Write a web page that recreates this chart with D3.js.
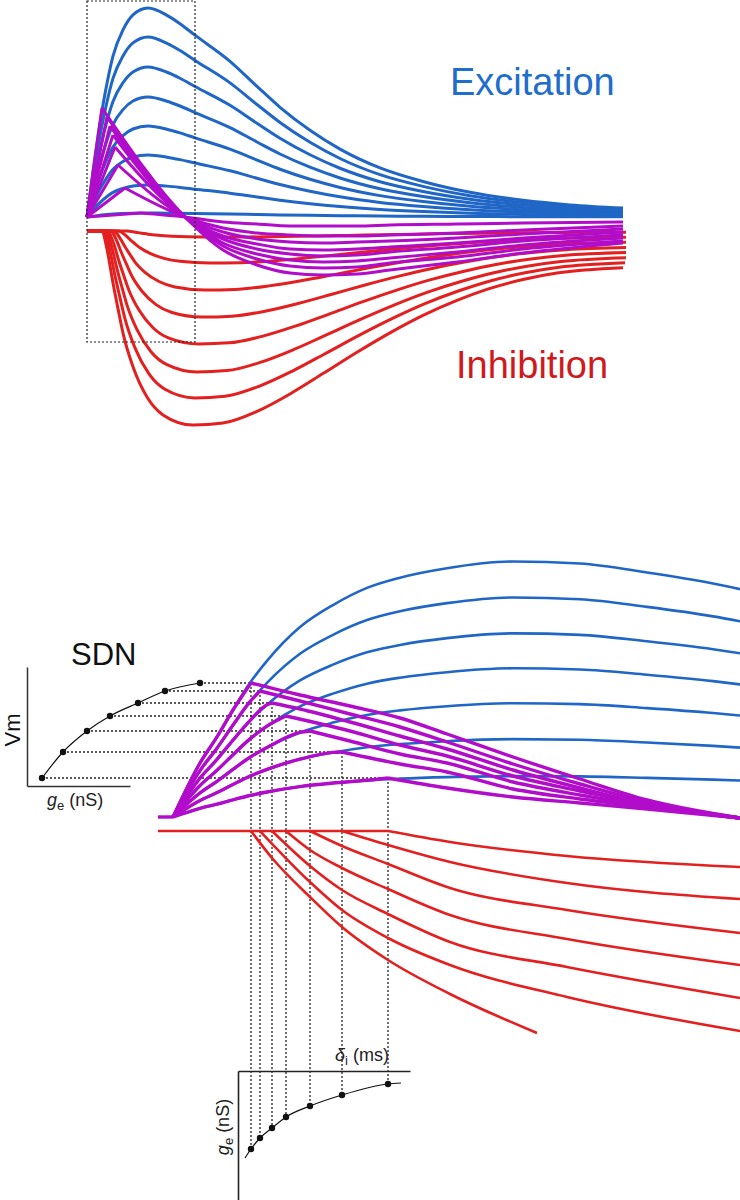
<!DOCTYPE html>
<html>
<head>
<meta charset="utf-8">
<script src="https://cdn.jsdelivr.net/npm/d3@7"></script>
<style>
  body { margin: 0; background: #fff; }
  svg { display: block; }
  text { font-family: "Liberation Sans", Arial, sans-serif; }
</style>
</head>
<body>
<svg id="chart" width="740" height="1200"></svg>
<script>
// ---------- top panel: full traces (time in ms, Vm in mV) ----------
const excTopT     = [0, 0.6, 1.3, 2.0, 2.6, 3.6, 4.6, 6.1, 8.0, 9.3, 10.8, 14.3, 17.0, 19.3, 22.3, 25.3, 29.3, 33.6, 38.3, 43.6, 48.3, 53.6];
const excTopShape = [0, 0.22, 0.45, 0.64, 0.77, 0.895, 0.967, 1.0, 0.965, 0.925, 0.87, 0.745, 0.625, 0.525, 0.415, 0.325, 0.235, 0.17, 0.118, 0.08, 0.058, 0.043];
const excTopPeak  = [20.9, 18.0, 15.0, 12.0, 9.1, 6.2, 3.2, 0.4];

const inhTopT     = [1.6, 2.1, 2.6, 3.1, 3.6, 4.6, 6.0, 7.6, 10.6, 13.6, 17.0, 20.3, 23.6, 27.0, 30.3, 33.6, 37.0, 40.3, 43.6, 47.0, 53.6];
const inhTopShape = [0, 0.12, 0.268, 0.40, 0.526, 0.70, 0.856, 0.948, 1.0, 0.99, 0.93, 0.84, 0.735, 0.625, 0.525, 0.435, 0.358, 0.296, 0.25, 0.217, 0.19];
const inhTopPeak  = [19.4, 16.7, 14.1, 11.3, 8.6, 5.9, 3.2, 0.6];
const inhTopDelay = [0, 0.2, 0.4, 0.6, 0.9, 1.2, 1.7, 2.5];

const mixTopPeakT = [1.5, 2.0, 2.3, 2.6, 2.8, 3.1, 3.8, 5.3];
const mixTopPeakV = [10.9, 10.0, 9.1, 8.2, 7.0, 5.2, 2.9, 0.4];
const mixTopTailT = [9.8, 13.6, 17.0, 20.3, 23.6, 27.0, 30.3, 37.0, 43.6, 53.6];
const mixTopTail = [
  [0, -3.3, -4.8, -5.6, -5.8, -5.7, -5.3, -4.5, -3.6, -2.6],
  [0, -2.9, -4.2, -4.9, -5.1, -5.0, -4.6, -4.0, -3.2, -2.4],
  [0, -2.6, -3.7, -4.3, -4.5, -4.4, -4.1, -3.5, -2.8, -2.1],
  [0, -2.2, -3.2, -3.7, -3.9, -3.8, -3.5, -3.0, -2.4, -1.8],
  [0, -1.9, -2.7, -3.2, -3.3, -3.2, -3.0, -2.6, -2.1, -1.5],
  [0, -1.5, -2.2, -2.5, -2.6, -2.5, -2.4, -2.1, -1.7, -1.2],
  [0, -1.1, -1.6, -1.8, -1.9, -1.9, -1.8, -1.6, -1.3, -0.9],
  [0, -0.5, -0.7, -0.9, -0.9, -0.9, -0.8, -0.7, -0.6, -0.5]
];
const zoomBoxT = [0, 10.8];
const zoomBoxV = [-12.5, 21.6];

// ---------- bottom panel: zoom on the onset ----------
const botStartT   = 0;
const excBotT     = [1.5, 4.2, 5.9, 7.5, 9.2, 10.9, 14.2, 17.5, 20.9, 24.2, 28.9, 35.5, 42.2, 48.9, 55.5, 58.2];
const excBotShape = [0, 0.211, 0.313, 0.418, 0.524, 0.61, 0.742, 0.828, 0.895, 0.935, 0.972, 0.998, 0.99, 0.955, 0.912, 0.89];
const excBotPeak  = [25.6, 22.0, 18.4, 14.9, 11.4, 7.8, 4.1];

const mixBotPeakT = [9.3, 10.2, 11.4, 12.8, 15.2, 18.4, 23.0];
const mixBotPeakV = [13.4, 12.6, 11.4, 10.1, 8.6, 6.5, 3.9];
const mixBotTailT = [14.2, 19.2, 24.2, 28.9, 35.5, 42.2, 48.9, 58.2];
const mixBotTail = [
  [12.2, 11.1, 9.9, 8.3, 6.0, 3.8, 1.7, -0.1],
  [11.6, 10.3, 9.0, 7.5, 5.3, 3.3, 1.5, -0.1],
  [10.8, 9.5, 8.1, 6.8, 4.7, 2.9, 1.3, -0.1],
  [null, 8.6, 7.2, 6.1, 4.1, 2.6, 1.2, -0.1],
  [null, 7.6, 6.3, 5.4, 3.5, 2.2, 1.1, -0.1],
  [null, null, 5.3, 4.5, 2.8, 1.8, 1.0, -0.1],
  [null, null, null, 2.9, 2.0, 1.4, 0.8, -0.1]
];

const inhBotBaseEnd = 23.0;
const inhBotCurves = [
  [[9.3, 0], [11.4, 2.7], [15.2, 6.6], [18.4, 9.6], [23.0, 12.9], [29.2, 16.3], [37.9, 20.2]],
  [[10.2, 0], [15.2, 5.1], [18.4, 7.9], [23.0, 10.7], [29.2, 13.4], [40.9, 16.6], [58.2, 20.0]],
  [[11.4, 0], [15.2, 3.5], [18.4, 5.9], [23.0, 8.3], [29.2, 11.1], [40.9, 13.6], [58.2, 16.7]],
  [[12.8, 0], [15.2, 1.9], [18.4, 3.7], [23.0, 5.8], [29.2, 8.4], [40.9, 10.8], [58.2, 13.4]],
  [[15.2, 0], [18.4, 1.5], [23.0, 3.3], [29.2, 5.7], [40.9, 7.9], [58.2, 10.2]],
  [[18.4, 0], [23.0, 1.4], [29.2, 3.1], [40.9, 5.2], [58.2, 6.8]],
  [[23.0, 0], [29.2, 1.1], [40.9, 2.5], [58.2, 3.6]]
];

// insets: peak Vm vs g_e, and g_e vs inhibitory delay
const sdnGe   = [17.3, 13.8, 11.1, 8.3, 6.0, 3.6, 1.5];
const deltaGe = [7.8, 6.7, 5.7, 4.6, 3.5, 2.4, 1.3];
const deltaFitT = [8.7, 9.3, 10.2, 11.4, 12.8, 15.2, 18.4, 23.0, 24.3];
const deltaFitG = [8.7, 7.8, 6.7, 5.7, 4.6, 3.5, 2.4, 1.3, 1.2];

// ---------- drawing ----------
const blue = "#1f66c6", red = "#e3201f", purple = "#b20ccb";
const svg = d3.select("#chart");

const xTop = d3.scaleLinear().domain([0, 54]).range([87, 627]);
const yTopExc = d3.scaleLinear().domain([0, 20]).range([217, 17]);
const yTopInh = d3.scaleLinear().domain([0, 20]).range([231, 431]);
const xBot = d3.scaleLinear().domain([0, 58.2]).range([158, 740]);
const yBotExc = d3.scaleLinear().domain([0, 20]).range([817, 617]);
const yBotInh = d3.scaleLinear().domain([0, 20]).range([831, 1031]);
const xSdn = d3.scaleLinear().domain([0, 10]).range([27, 127]);
const yDelta = d3.scaleLinear().domain([0, 10]).range([1071, 1171]);

svg.append("clipPath").attr("id", "topClip")
  .append("rect").attr("x", 0).attr("y", 0).attr("width", xTop(54) - 1).attr("height", 460);

const topG = svg.append("g").attr("clip-path", "url(#topClip)");

const lineTopExc = d3.line().x(d => xTop(d[0])).y(d => yTopExc(d[1])).curve(d3.curveMonotoneX);
const lineTopInh = d3.line().x(d => xTop(d[0])).y(d => yTopInh(d[1])).curve(d3.curveMonotoneX);
const lineTopExcLin = d3.line().x(d => xTop(d[0])).y(d => yTopExc(d[1]));
const lineTopInhLin = d3.line().x(d => xTop(d[0])).y(d => yTopInh(d[1]));

topG.selectAll("path.excTop")
  .data(excTopPeak)
  .enter()
  .append("path")
  .attr("class", "excTop")
  .attr("d", a => lineTopExc(excTopT.map((t, j) => [t, excTopShape[j] * a])))
  .attr("fill", "none").attr("stroke", blue).attr("stroke-width", 3);

// inhibition: flat until its (delayed) onset, then the trace
inhTopPeak.forEach((a, i) => {
  const onset = inhTopT[0] + inhTopDelay[i];
  topG.append("path")
    .attr("d", lineTopInhLin([[0, 0], [onset, 0]]))
    .attr("fill", "none").attr("stroke", red).attr("stroke-width", 3);
  topG.append("path")
    .attr("d", lineTopInh(inhTopT.map((t, j) => [t + inhTopDelay[i], inhTopShape[j] * a])))
    .attr("fill", "none").attr("stroke", red).attr("stroke-width", 3);
});

mixTopPeakT.forEach((pt, i) => {
  const pv = mixTopPeakV[i];
  topG.append("path")
    .attr("d", lineTopExcLin([[0, 0], [pt, pv]]))
    .attr("fill", "none").attr("stroke", purple).attr("stroke-width", 3);
  topG.append("path")
    .attr("d", lineTopExc([[pt, pv]].concat(mixTopTailT.map((t, j) => [t, mixTopTail[i][j]]))))
    .attr("fill", "none").attr("stroke", purple).attr("stroke-width", 3);
});

svg.append("rect")
  .attr("x", xTop(zoomBoxT[0]))
  .attr("y", yTopExc(zoomBoxV[1]))
  .attr("width", xTop(zoomBoxT[1]) - xTop(zoomBoxT[0]))
  .attr("height", yTopExc(zoomBoxV[0]) - yTopExc(zoomBoxV[1]))
  .attr("fill", "none").attr("stroke", "#222").attr("stroke-width", 1.2)
  .attr("stroke-dasharray", "2,2");

svg.append("text").attr("x", 450).attr("y", 95)
  .attr("font-size", 38).attr("fill", "#216dcc").text("Excitation");
svg.append("text").attr("x", 456).attr("y", 378)
  .attr("font-size", 38).attr("fill", "#cf1a1d").text("Inhibition");

// bottom panel
const bot = svg.append("g");
const lineBotExc = d3.line().x(d => xBot(d[0])).y(d => yBotExc(d[1])).curve(d3.curveMonotoneX);
const lineBotInh = d3.line().x(d => xBot(d[0])).y(d => yBotInh(d[1])).curve(d3.curveMonotoneX);
const lineBotExcLin = d3.line().x(d => xBot(d[0])).y(d => yBotExc(d[1]));
const dotted = { stroke: "#222", width: 1.3, dash: "2,2" };

// dotted guides first, traces on top
mixBotPeakT.forEach((pt, i) => {
  const v = mixBotPeakV[i];
  bot.append("line")
    .attr("x1", xSdn(sdnGe[i])).attr("x2", xBot(pt))
    .attr("y1", yBotExc(v)).attr("y2", yBotExc(v))
    .attr("stroke", dotted.stroke).attr("stroke-width", dotted.width).attr("stroke-dasharray", dotted.dash);
  bot.append("line")
    .attr("x1", xBot(pt)).attr("x2", xBot(pt))
    .attr("y1", yBotExc(v)).attr("y2", yDelta(deltaGe[i]))
    .attr("stroke", dotted.stroke).attr("stroke-width", dotted.width).attr("stroke-dasharray", dotted.dash);
});

bot.selectAll("path.excBot")
  .data(excBotPeak)
  .enter()
  .append("path")
  .attr("class", "excBot")
  .attr("d", a => lineBotExc(excBotT.map((t, j) => [t, excBotShape[j] * a])))
  .attr("fill", "none").attr("stroke", blue).attr("stroke-width", 2.6);

bot.append("path")
  .attr("d", d3.line().x(d => xBot(d[0])).y(d => yBotInh(d[1]))([[botStartT, 0], [inhBotBaseEnd, 0]]))
  .attr("fill", "none").attr("stroke", red).attr("stroke-width", 2.6);

bot.selectAll("path.inhBot")
  .data(inhBotCurves)
  .enter()
  .append("path")
  .attr("class", "inhBot")
  .attr("d", d => lineBotInh(d))
  .attr("fill", "none").attr("stroke", red).attr("stroke-width", 2.6);

bot.append("path")
  .attr("d", lineBotExcLin([[botStartT, 0], [excBotT[0], 0]]))
  .attr("fill", "none").attr("stroke", purple).attr("stroke-width", 3.4);

mixBotPeakT.forEach((pt, i) => {
  const a = excBotPeak[i], pv = mixBotPeakV[i];
  const head = excBotT.map((t, j) => [t, excBotShape[j] * a]).filter(d => d[0] < pt - 0.3);
  head.push([pt, pv]);
  const tail = [[pt, pv]].concat(mixBotTailT.map((t, j) => [t, mixBotTail[i][j]]).filter(d => d[1] !== null));
  bot.append("path").attr("d", lineBotExc(head))
    .attr("fill", "none").attr("stroke", purple).attr("stroke-width", 3.4);
  bot.append("path").attr("d", lineBotExc(tail))
    .attr("fill", "none").attr("stroke", purple).attr("stroke-width", 3.4);
});

// SDN inset: peak Vm vs g_e
const sdn = svg.append("g");
const ySdnAxis = d3.scaleLinear().domain([3.1, 15]).range([yBotExc(3.1), yBotExc(15)]);
const xSdnAxis = d3.scaleLinear().domain([0, 10.3]).range([xSdn(0), xSdn(10.3)]);
sdn.append("g").attr("transform", `translate(${xSdn(0)},0)`)
  .call(d3.axisLeft(ySdnAxis).tickValues([]).tickSizeOuter(0));
sdn.append("g").attr("transform", `translate(0,${yBotExc(3.1)})`)
  .call(d3.axisBottom(xSdnAxis).tickValues([]).tickSizeOuter(0));
sdn.selectAll(".domain").attr("stroke", "#333").attr("stroke-width", 1.5);

const sdnPts = sdnGe.map((g, i) => [g, mixBotPeakV[i]]).sort((p, q) => p[0] - q[0]);
sdn.append("path")
  .attr("d", d3.line().x(d => xSdn(d[0])).y(d => yBotExc(d[1])).curve(d3.curveMonotoneX)(sdnPts))
  .attr("fill", "none").attr("stroke", "#111").attr("stroke-width", 1.2);
sdn.selectAll("circle")
  .data(sdnPts)
  .enter()
  .append("circle")
  .attr("cx", d => xSdn(d[0])).attr("cy", d => yBotExc(d[1])).attr("r", 3.2).attr("fill", "#111");

sdn.append("text").attr("x", 71).attr("y", 665).attr("font-size", 31).attr("fill", "#111").text("SDN");
sdn.append("text").attr("transform", "translate(20,730) rotate(-90)")
  .attr("text-anchor", "middle").attr("font-size", 22).attr("fill", "#111").text("Vm");
const geLab = sdn.append("text").attr("x", 47).attr("y", 806).attr("font-size", 18).attr("fill", "#222");
geLab.append("tspan").attr("font-style", "italic").text("g");
geLab.append("tspan").attr("font-size", 13).attr("dy", 4).text("e");
geLab.append("tspan").attr("dy", -4).text(" (nS)");

// delay inset: g_e vs delta_i
const del = svg.append("g");
const xDelAxis = d3.scaleLinear().domain([8.0, 25.2]).range([xBot(8.0), xBot(25.2)]);
const yDelAxis = d3.scaleLinear().domain([0, 13]).range([yDelta(0), yDelta(13)]);
del.append("g").attr("transform", `translate(0,${yDelta(0)})`)
  .call(d3.axisTop(xDelAxis).tickValues([]).tickSizeOuter(0));
del.append("g").attr("transform", `translate(${xBot(8.0)},0)`)
  .call(d3.axisLeft(yDelAxis).tickValues([]).tickSizeOuter(0));
del.selectAll(".domain").attr("stroke", "#222").attr("stroke-width", 1.6);

del.append("path")
  .attr("d", d3.line().x(d => xBot(d[0])).y(d => yDelta(d[1])).curve(d3.curveMonotoneX)(deltaFitT.map((t, j) => [t, deltaFitG[j]])))
  .attr("fill", "none").attr("stroke", "#111").attr("stroke-width", 1.2);
del.selectAll("circle")
  .data(mixBotPeakT.map((t, i) => [t, deltaGe[i]]))
  .enter()
  .append("circle")
  .attr("cx", d => xBot(d[0])).attr("cy", d => yDelta(d[1])).attr("r", 3.2).attr("fill", "#111");

const dLab = del.append("text").attr("x", 335).attr("y", 1061).attr("font-size", 18).attr("fill", "#222");
dLab.append("tspan").attr("font-style", "italic").text("δ");
dLab.append("tspan").attr("font-size", 13).attr("dy", 4).text("i");
dLab.append("tspan").attr("dy", -4).text(" (ms)");

const gLab = del.append("text").attr("transform", "translate(229,1127) rotate(-90)")
  .attr("text-anchor", "middle").attr("font-size", 18).attr("fill", "#222");
gLab.append("tspan").attr("font-style", "italic").text("g");
gLab.append("tspan").attr("font-size", 13).attr("dy", 4).text("e");
gLab.append("tspan").attr("dy", -4).text(" (nS)");
</script>
</body>
</html>
